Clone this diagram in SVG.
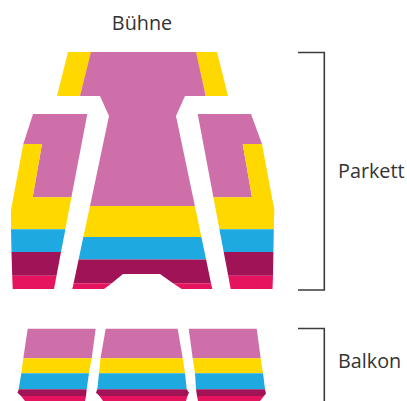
<svg xmlns="http://www.w3.org/2000/svg" width="407" height="401" viewBox="0 0 407 401">
<style>
.p{fill:#CE6FA9}.y{fill:#FFD800}.b{fill:#1FA9E1}.m{fill:#A01457}.r{fill:#E6135F}
.t{font-family:"Open Sans","Noto Sans",sans-serif;font-size:19.8px;fill:#333}
.br{fill:none;stroke:#3c3c3c;stroke-width:1.6}
</style>
<rect width="407" height="401" fill="#fff"/>
<g id="parkett-mitte">
<polygon class="y" points="68,52 91.5,52 80,96 57,96"/>
<polygon class="y" points="195.5,52 217,52 228,96 205.7,96"/>
<polygon class="p" points="91,52 196,52 205.7,96 185,96 176,116 194.9,206 90,206 109,116 100,96 80,96"/>
<polygon class="y" points="90,206 194.9,206 201.4,237 83.3,237"/>
<polygon class="b" points="83.3,237 201.4,237 206.1,259.5 78.6,259.5"/>
<polygon class="m" points="78.6,259.5 206.1,259.5 211,283.300 173,283.300 160,274 123,274 111.700,283.300 73.600,283.300"/>
<polygon class="r" points="73.6,283.3 111.700,283.3 104,289 72.3,289"/>
<polygon class="r" points="173,283.3 211,283.3 212.3,289 181.700,289"/>
</g>
<g id="parkett-links">
<polygon class="p" points="33,114 87.3,114 71.4,197.3 32.7,197.3 42,144 23.3,144"/>
<polygon class="y" points="23.3,144 42,144 32.7,197.3 71.4,197.3 65.4,229.3 11,229.3 11,210"/>
<polygon class="b" points="11,229.3 65.4,229.3 61,252 11.5,252"/>
<polygon class="m" points="11.5,252 61,252 56.5,275.7 12.2,275.7"/>
<polygon class="r" points="12.2,275.7 56.5,275.7 54,289 12.7,289"/>
</g>
<g id="parkett-rechts">
<polygon class="p" points="197.7,114 251,114 262,144 242.7,144 252,197.3 213.4,197.3"/>
<polygon class="y" points="242.7,144 262,144 274.3,210 273.8,229.3 219.4,229.3 213.4,197.3 252,197.3"/>
<polygon class="b" points="219.4,229.3 273.8,229.3 273.4,252 223.7,252"/>
<polygon class="m" points="223.7,252 273.4,252 273,275.7 228.2,275.7"/>
<polygon class="r" points="228.2,275.7 273,275.7 272.5,289 230.7,289"/>
</g>
<g id="balkon-links">
<polygon class="p" points="27.7,328.7 95.7,328.7 91.7,358.3 23.3,358.3"/>
<polygon class="y" points="23.3,358.3 91.7,358.3 89,373.3 21.3,373.3"/>
<polygon class="b" points="21.3,373.3 89,373.3 86.7,389.3 18.7,389.3"/>
<polygon class="m" points="18.7,389.3 86.7,389.3 86,396 21,396 17.5,392.7"/>
<polygon class="r" points="21,396 86,396 85,401 25,401"/>
</g>
<g id="balkon-mitte">
<polygon class="p" points="105.7,328.7 177.7,328.7 182.7,358.3 100.5,358.3"/>
<polygon class="y" points="100.5,358.3 182.7,358.3 185,373.3 99,373.3"/>
<polygon class="b" points="99,373.3 185,373.3 186.7,389.3 97.3,389.3"/>
<polygon class="m" points="97.3,389.3 186.7,389.3 189,392.7 187.5,396 99.5,396 96,392.7"/>
<polygon class="r" points="99.5,396 187.5,396 186,401 103,401"/>
</g>
<g id="balkon-rechts">
<polygon class="p" points="188.7,328.7 256.7,328.7 260.7,358.3 192.7,358.3"/>
<polygon class="y" points="192.7,358.3 260.7,358.3 263,373.3 195,373.3"/>
<polygon class="b" points="195,373.3 263,373.3 265,389.3 196,389.3"/>
<polygon class="m" points="196,389.3 265,389.3 266,393.500 264,396 197,396"/>
<polygon class="r" points="197,396 264,396 260,401 198,401"/>
</g>
<g id="klammern">
<path class="br" d="M298 52.5H324.3V290H298"/>
<path class="br" d="M298 328.5H324.3V401"/>
</g>
<text class="t" x="142" y="30" text-anchor="middle">Bühne</text>
<text class="t" x="338" y="178">Parkett</text>
<text class="t" x="338" y="368">Balkon</text>
</svg>
